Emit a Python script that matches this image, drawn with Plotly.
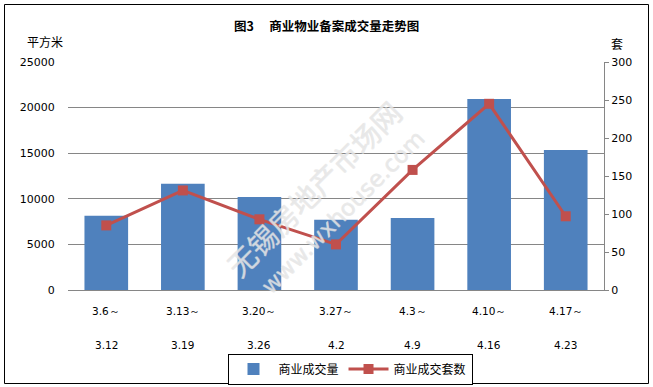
import plotly.graph_objects as go

week_start = ["3.6～", "3.13～", "3.20～", "3.27～", "4.3～", "4.10～", "4.17～"]
week_end = ["3.12", "3.19", "3.26", "4.2", "4.9", "4.16", "4.23"]
area = [8150, 11650, 10200, 7700, 7900, 20950, 15350]      # 商业成交量 (平方米)
units = [85, 131, 93, 60, 158, 245, 97]                    # 商业成交套数 (套)

cats = [s + e for s, e in zip(week_start, week_end)]

W, H = 653, 387
L, R, T, B = 68, 49, 62, 97
pw, ph = W - L - R, H - T - B

def px(x):
    return (x - L) / pw

def py(y):
    return (H - B - y) / ph

cjk = "Noto Sans CJK SC"
num = "DejaVu Sans"
wm_shadow = "0.5px 0 0 #d6d6d6, -0.5px 0 0 #d6d6d6, 0 0.5px 0 #d6d6d6, 0 -0.5px 0 #d6d6d6"

fig = go.Figure()
fig.add_trace(go.Bar(
    x=cats, y=area, name="商业成交量",
    marker=dict(color="#4F81BD", line=dict(width=0)),
    yaxis="y",
))
fig.add_trace(go.Scatter(
    x=cats, y=units, name="商业成交套数", mode="lines+markers",
    line=dict(color="#C0504D", width=3),
    marker=dict(symbol="square", size=10, color="#C0504D"),
    yaxis="y2",
))

ann = []
for c, s, e in zip(cats, week_start, week_end):
    ann.append(dict(x=c, y=py(311), xref="x", yref="paper", text=s, showarrow=False,
                    font=dict(family=num, size=10.5, color="#000"), yanchor="middle"))
    ann.append(dict(x=c, y=py(345), xref="x", yref="paper", text=e, showarrow=False,
                    font=dict(family=num, size=10.5, color="#000"), yanchor="middle"))

ann += [
    dict(x=px(326), y=py(25), xref="paper", yref="paper", text="<b>图3　 商业物业备案成交量走势图</b>",
         showarrow=False, font=dict(family=cjk, size=12.5, color="#000"), xanchor="center", yanchor="middle"),
    dict(x=px(45), y=py(42), xref="paper", yref="paper", text="平方米",
         showarrow=False, font=dict(family=cjk, size=12, color="#000"), xanchor="center", yanchor="middle"),
    dict(x=px(617), y=py(44), xref="paper", yref="paper", text="套",
         showarrow=False, font=dict(family=cjk, size=12, color="#000"), xanchor="center", yanchor="middle"),
    dict(x=px(313), y=py(188), xref="paper", yref="paper", text="无锡房地产市场网",
         showarrow=False, textangle=-45,
         font=dict(family=cjk, size=29, color="rgba(255,255,255,0.35)", shadow=wm_shadow),
         xanchor="center", yanchor="middle"),
    dict(x=px(343), y=py(212), xref="paper", yref="paper", text="www.wxhouse.com",
         showarrow=False, textangle=-45,
         font=dict(family=num, size=23, color="rgba(255,255,255,0.35)", shadow=wm_shadow),
         xanchor="center", yanchor="middle"),
]

shapes = [
    dict(type="rect", xref="paper", yref="paper", x0=px(4.5), x1=px(648.5), y0=py(4.5), y1=py(383.5),
         line=dict(color="#000", width=1), fillcolor="rgba(0,0,0,0)", layer="below"),
]

fig.update_layout(
    width=W, height=H,
    margin=dict(l=L, r=R, t=T, b=B, autoexpand=False),
    paper_bgcolor="white", plot_bgcolor="white",
    bargap=0.43,
    showlegend=True,
    legend=dict(orientation="h", xref="container", yref="container",
                x=350 / W, y=1 - 369 / H, xanchor="center", yanchor="middle",
                bordercolor="#000", borderwidth=1, bgcolor="white",
                font=dict(family=cjk, size=12, color="#000"),
                itemwidth=40, tracegroupgap=0),
    xaxis=dict(showticklabels=False, showline=True, linecolor="#868686", linewidth=1,
               ticks="", showgrid=False, fixedrange=True),
    yaxis=dict(range=[0, 25000], dtick=5000, tickformat="d", showgrid=True, gridcolor="#868686", gridwidth=1,
               zeroline=False, showline=False, ticks="outside", ticklen=10, tickcolor="rgba(0,0,0,0)",
               tickfont=dict(family=num, size=11, color="#000"), automargin=False),
    yaxis2=dict(range=[0, 300], dtick=50, tickformat="d", overlaying="y", side="right", showgrid=False,
                zeroline=False, showline=True, linecolor="#868686", linewidth=1,
                ticks="outside", ticklen=4, tickcolor="#868686",
                tickfont=dict(family=num, size=11, color="#000"), automargin=False),
    annotations=ann,
    shapes=shapes,
)

fig.write_html("out.html", config={"displayModeBar": False},
               post_script="document.body.style.margin='0';document.body.style.overflow='hidden';")
